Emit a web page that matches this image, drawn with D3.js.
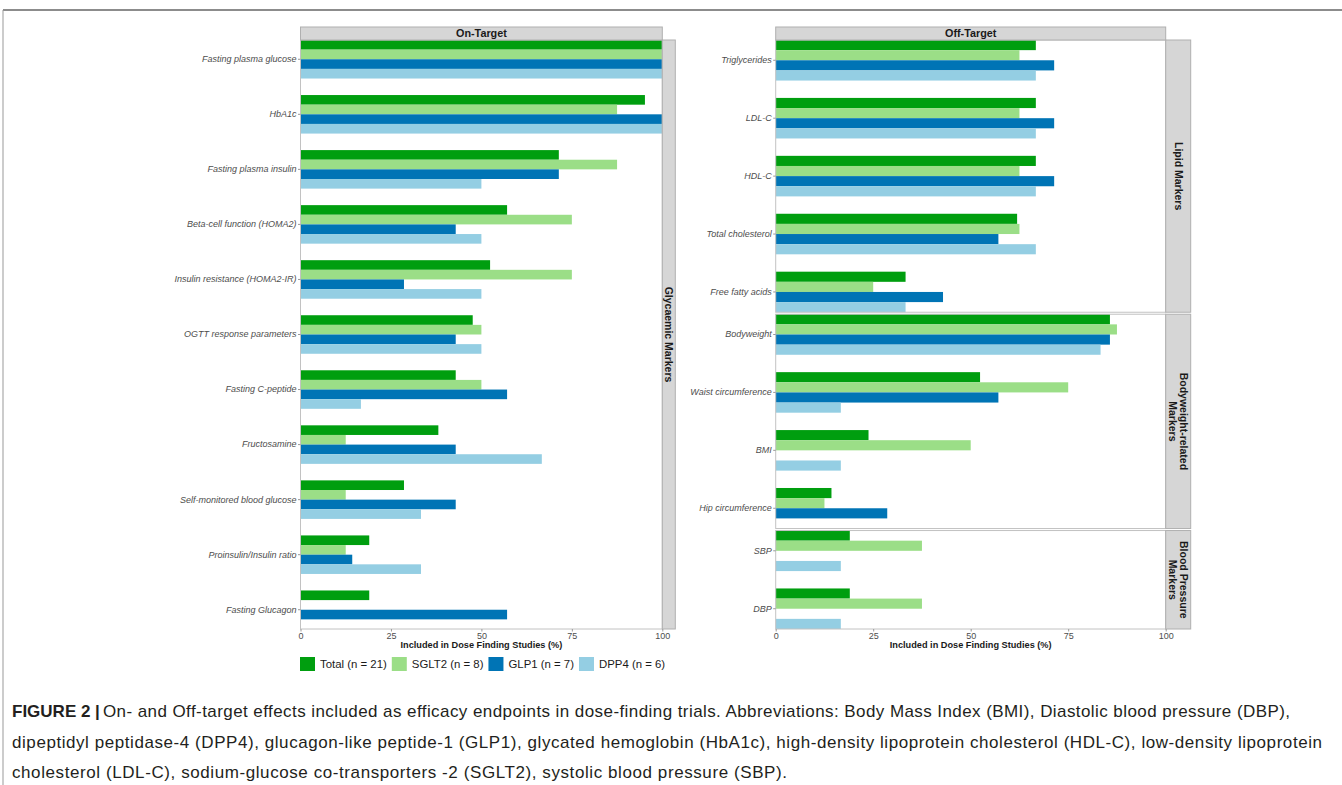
<!DOCTYPE html>
<html><head><meta charset="utf-8">
<script src="https://cdn.jsdelivr.net/npm/d3@7"></script>
<style>
html,body{margin:0;padding:0;background:#fff;}
svg{display:block;font-family:"Liberation Sans",Arial,sans-serif;}
</style></head>
<body><svg id="chart" width="1342" height="785"></svg>
<script>
// ---------- data ----------
const seriesKeys = ["Total (n = 21)", "SGLT2 (n = 8)", "GLP1 (n = 7)", "DPP4 (n = 6)"];
const seriesColors = ["#009e0f", "#9bde87", "#0074b5", "#94cee3"];
const xTicks = [0, 25, 50, 75, 100];

const onCategories = ["Fasting plasma glucose", "HbA1c", "Fasting plasma insulin", "Beta-cell function (HOMA2)",
  "Insulin resistance (HOMA2-IR)", "OGTT response parameters", "Fasting C-peptide", "Fructosamine",
  "Self-monitored blood glucose", "Proinsulin/Insulin ratio", "Fasting Glucagon"];
const onTotal = [100, 95.2, 71.4, 57.1, 52.4, 47.6, 42.9, 38.1, 28.6, 19.0, 19.0];
const onSGLT2 = [100, 87.5, 87.5, 75, 75, 50, 50, 12.5, 12.5, 12.5, 0];
const onGLP1  = [100, 100, 71.4, 42.9, 28.6, 42.9, 57.1, 42.9, 42.9, 14.3, 57.1];
const onDPP4  = [100, 100, 50, 50, 50, 50, 16.7, 66.7, 33.3, 33.3, 0];

const offGroups = ["Lipid Markers", "Bodyweight-related\nMarkers", "Blood Pressure\nMarkers"];
const offCategories = ["Triglycerides", "LDL-C", "HDL-C", "Total cholesterol", "Free fatty acids",
  "Bodyweight", "Waist circumference", "BMI", "Hip circumference", "SBP", "DBP"];
const offGroupOf = [0, 0, 0, 0, 0, 1, 1, 1, 1, 2, 2];
const offTotal = [66.7, 66.7, 66.7, 61.9, 33.3, 85.7, 52.4, 23.8, 14.3, 19.0, 19.0];
const offSGLT2 = [62.5, 62.5, 62.5, 62.5, 25, 87.5, 75, 50, 12.5, 37.5, 37.5];
const offGLP1  = [71.4, 71.4, 71.4, 57.1, 42.9, 85.7, 57.1, 0, 28.6, 0, 0];
const offDPP4  = [66.7, 66.7, 66.7, 66.7, 33.3, 83.3, 16.7, 16.7, 0, 16.7, 16.7];

const captionBold = "FIGURE 2 |";
const captionLines = [
  "On- and Off-target effects included as efficacy endpoints in dose-finding trials. Abbreviations: Body Mass Index (BMI), Diastolic blood pressure (DBP),",
  "dipeptidyl peptidase-4 (DPP4), glucagon-like peptide-1 (GLP1), glycated hemoglobin (HbA1c), high-density lipoprotein cholesterol (HDL-C), low-density lipoprotein",
  "cholesterol (LDL-C), sodium-glucose co-transporters -2 (SGLT2), systolic blood pressure (SBP)."
];
const captionLineEnds = [1290, 1322, 787];
const axisTitle = "Included in Dose Finding Studies (%)";

// ---------- drawing ----------
const svg = d3.select("#chart");
const STRIP_FILL = "#d6d6d6", STRIP_STROKE = "#b0b0b0", BORDER = "#c2c2c2";
const TEXT_DARK = "#1a1a1a", TEXT_GRAY = "#4d4d4d";

// outer frame lines
svg.append("line").attr("x1", 3).attr("x2", 1342).attr("y1", 10).attr("y2", 10)
  .attr("stroke", "#666").attr("stroke-width", 1.5);
svg.append("line").attr("x1", 3).attr("x2", 3).attr("y1", 10).attr("y2", 785)
  .attr("stroke", "#999").attr("stroke-width", 1);

function rows(cats, arrs) {
  return cats.map((c, i) => ({cat: c, vals: arrs.map((a, k) => ({k: seriesKeys[k], v: a[i]}))}));
}

function drawFacet(x, cats, arrs, top, bottom) {
  const y = d3.scaleBand().domain(cats).range([top, bottom]).paddingInner(0.3).paddingOuter(0);
  const ys = d3.scaleBand().domain(seriesKeys).range([0, y.bandwidth()]);
  const color = d3.scaleOrdinal().domain(seriesKeys).range(seriesColors);
  const [x0, x1] = x.range();
  svg.append("rect").attr("x", x0).attr("y", top).attr("width", x1 - x0).attr("height", bottom - top)
    .attr("fill", "#fff");
  const g = svg.append("g");
  const grp = g.selectAll("g").data(rows(cats, arrs)).join("g")
    .attr("transform", d => `translate(0,${y(d.cat)})`);
  grp.selectAll("rect").data(d => d.vals.filter(v => v.v > 0)).join("rect")
    .attr("x", x(0)).attr("y", d => ys(d.k)).attr("height", ys.bandwidth())
    .attr("width", d => x(d.v) - x(0)).attr("fill", d => color(d.k));
  svg.append("rect").attr("x", x0).attr("y", top).attr("width", x1 - x0).attr("height", bottom - top)
    .attr("fill", "none").attr("stroke", BORDER).attr("stroke-width", 1);
  const ax = svg.append("g").attr("transform", `translate(${x0},0)`)
    .call(d3.axisLeft(y).tickSize(2.5).tickPadding(1.5));
  ax.select(".domain").remove();
  ax.selectAll(".tick line").attr("stroke", "#999");
  ax.selectAll(".tick text").attr("fill", TEXT_GRAY).attr("font-size", 9).attr("font-style", "italic")
    .attr("font-family", "Liberation Sans, Arial, sans-serif");
  return y;
}

function bottomAxis(x, yb) {
  const ax = svg.append("g").attr("transform", `translate(0,${yb})`)
    .call(d3.axisBottom(x).tickValues(xTicks).tickFormat(d3.format("d")).tickSize(2.5).tickPadding(1));
  ax.select(".domain").remove();
  ax.selectAll(".tick line").attr("stroke", "#999");
  ax.selectAll(".tick text").attr("fill", TEXT_GRAY).attr("font-size", 9)
    .attr("font-family", "Liberation Sans, Arial, sans-serif");
  const [a, b] = x.range();
  svg.append("text").attr("x", (a + b) / 2).attr("y", yb + 18.5).attr("text-anchor", "middle")
    .attr("font-size", 9.2).attr("font-weight", "bold").attr("fill", TEXT_DARK).text(axisTitle);
}

function topStrip(x, top, label) {
  const [a, b] = x.range();
  svg.append("rect").attr("x", a).attr("y", top - 13).attr("width", b - a).attr("height", 13)
    .attr("fill", STRIP_FILL).attr("stroke", STRIP_STROKE);
  svg.append("text").attr("x", (a + b) / 2).attr("y", top - 2.8).attr("text-anchor", "middle")
    .attr("font-size", 10.8).attr("font-weight", "bold").attr("fill", TEXT_DARK).text(label);
}

function rightStrip(xl, w, top, bottom, label) {
  svg.append("rect").attr("x", xl).attr("y", top).attr("width", w).attr("height", bottom - top)
    .attr("fill", STRIP_FILL).attr("stroke", STRIP_STROKE);
  const lines = label.split("\n");
  const cx = xl + w / 2, cy = (top + bottom) / 2;
  const t = svg.append("text").attr("transform", `translate(${cx},${cy}) rotate(90)`)
    .attr("text-anchor", "middle").attr("font-size", 10.5).attr("font-weight", "bold").attr("fill", TEXT_DARK);
  const lh = 11;
  lines.forEach((l, i) => {
    t.append("tspan").attr("x", 0).attr("y", (i - (lines.length - 1) / 2) * lh + 3.6).text(l);
  });
}

const TOP = 40, BOTTOM = 629;

// Left panel: On-Target
const xOn = d3.scaleLinear().domain([0, 100]).range([300.5, 662.3]);
drawFacet(xOn, onCategories, [onTotal, onSGLT2, onGLP1, onDPP4], TOP, BOTTOM);
topStrip(xOn, TOP, "On-Target");
rightStrip(662.3, 13, TOP, BOTTOM, "Glycaemic Markers");
bottomAxis(xOn, BOTTOM);

// Right panel: Off-Target (free space facets)
const xOff = d3.scaleLinear().domain([0, 100]).range([775.7, 1165.7]);
const gap = 2;
const groupCats = offGroups.map((g, gi) => offCategories.filter((c, i) => offGroupOf[i] === gi));
const units = groupCats.map(c => c.length - 0.3);
const unitPx = (BOTTOM - TOP - gap * (offGroups.length - 1)) / d3.sum(units);
let cur = TOP;
groupCats.forEach((cats, gi) => {
  const h = units[gi] * unitPx;
  const idx = cats.map(c => offCategories.indexOf(c));
  const arrs = [offTotal, offSGLT2, offGLP1, offDPP4].map(a => idx.map(i => a[i]));
  drawFacet(xOff, cats, arrs, cur, cur + h);
  rightStrip(1165.7, 25, cur, cur + h, offGroups[gi]);
  cur += h + gap;
});
topStrip(xOff, TOP, "Off-Target");
bottomAxis(xOff, BOTTOM);

// Legend
const leg = svg.append("g");
let lx = 300;
seriesKeys.forEach((k, i) => {
  leg.append("rect").attr("x", lx).attr("y", 657).attr("width", 15).attr("height", 14).attr("fill", seriesColors[i]);
  const t = leg.append("text").attr("x", lx + 20).attr("y", 668).attr("font-size", 11.4)
    .attr("fill", TEXT_DARK).text(k);
  lx += 20 + t.node().getComputedTextLength() + 5;
});

// Caption
const cap = svg.append("g").attr("fill", "#231f20");
captionLines.forEach((line, i) => {
  const yb = 717 + i * 30.5;
  let x = 12;
  if (i === 0) {
    const b = cap.append("text").attr("x", x).attr("y", yb).attr("font-size", 17)
      .attr("font-weight", "bold").text(captionBold);
    x += b.node().getComputedTextLength() + 3;
  }
  cap.append("text").attr("x", x).attr("y", yb).attr("font-size", 17)
    .attr("textLength", captionLineEnds[i] - x).attr("lengthAdjust", "spacing").text(line);
});
</script></body></html>
